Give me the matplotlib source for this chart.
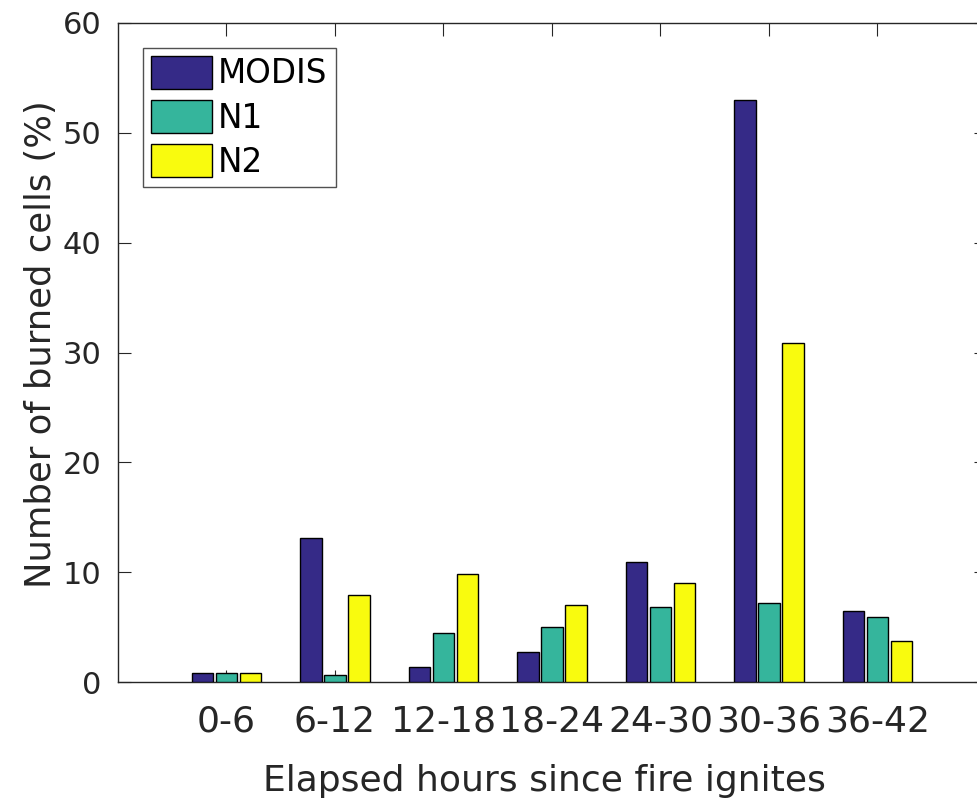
import numpy as np
import matplotlib
matplotlib.use('Agg')
import matplotlib.pyplot as plt

plt.rcParams['font.family'] = ['DejaVu Sans']

categories = ['0-6', '6-12', '12-18', '18-24', '24-30', '30-36', '36-42']
modis = [0.85, 13.1, 1.4, 2.7, 10.9, 53.0, 6.5]
n1 = [0.85, 0.65, 4.5, 5.0, 6.8, 7.2, 5.9]
n2 = [0.85, 7.9, 9.8, 7.0, 9.0, 30.9, 3.7]
series_names = ['MODIS', 'N1', 'N2']
colors = ['#352a87', '#35b59c', '#f9fb0e']
txt = '#262626'

fig = plt.figure(figsize=(9.78, 8), dpi=100)
# right spine sits just past the image edge, as in the cropped original
ax = fig.add_axes([118 / 978, 118 / 800, 868 / 978, 659 / 800])

x = np.arange(1, len(categories) + 1)
pitch = 0.221
width = 0.194
for i, (vals, name, c) in enumerate(zip([modis, n1, n2], series_names, colors)):
    ax.bar(x + (i - 1) * pitch, vals, width, color=c, edgecolor='black',
           linewidth=1.0, label=name, zorder=3)

ax.set_xlim(0, 8)
ax.set_ylim(0, 60)
ax.set_xticks(x)
ax.set_xticklabels(categories)
ax.set_yticks(np.arange(0, 61, 10))
ax.tick_params(direction='in', length=9, width=0.8, top=True, right=True,
               colors=txt)
ax.tick_params(axis='x', pad=16, labelsize=26)
ax.tick_params(axis='y', pad=12, labelsize=22)
for s in ax.spines.values():
    s.set_linewidth(1.0)
    s.set_color(txt)

ax.set_xlabel('Elapsed hours since fire ignites', fontsize=26, color=txt)
ax.xaxis.set_label_coords(0.491, -0.125)
ax.set_ylabel('Number of burned cells (%)', fontsize=25.5, color=txt)
ax.yaxis.set_label_coords(-0.069, 0.513)

leg = ax.legend(loc='upper left', bbox_to_anchor=(0.0288, 0.962), fontsize=23.5,
                frameon=True, fancybox=False, edgecolor=txt,
                handlelength=1.85, handleheight=1.15, handletextpad=0.2,
                borderpad=0.25, labelspacing=0.3, borderaxespad=0)
leg.get_frame().set_linewidth(1.0)

fig.savefig('out.png', dpi=100)
